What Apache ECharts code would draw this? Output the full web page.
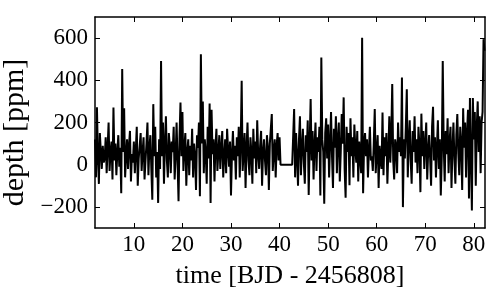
<!DOCTYPE html>
<html>
<head>
<meta charset="utf-8">
<script src="https://cdn.jsdelivr.net/npm/echarts@6/dist/echarts.min.js"></script>
<style>
  html, body { margin: 0; padding: 0; background: #fff; }
  #main { width: 500px; height: 300px; }
</style>
</head>
<body>
<div id="main"></div>
<script>
// light curve, one value every 0.2 d starting at day 2.0 (gap filled with 0)
var startDay = 2.0;
var cadence = 0.2;
var depth = [
  120, -60, 272, 40, -91, 150, 60, -20, 90, 10,
  30, 130, -40, 80, 200, -30, 60, 110, -70, 271,
  20, 100, -50, 60, 140, -10, 80, -135, 453, 60,
  268, -60, 40, 120, -20, 90, 160, -80, 50, 10,
  110, -40, 70, 180, -100, 30, 90, 150, -30, 60,
  130, -70, 20, 100, 200, -50, 80, 140, -20, -166,
  287, 40, 180, -60, 60, -181, 120, -20, 492, 40,
  200, -90, 100, 230, 20, -60, 150, 90, -40, 110,
  60, 180, -70, 40, 200, 10, -173, 130, 295, 40,
  250, -30, 80, 150, -100, 60, 120, -50, 90, 20,
  170, -60, 100, 40, -120, 140, 80, 200, -150, 524,
  100, 300, -40, 120, 60, -90, 180, 30, 290, -182,
  260, 50, 120, -80, 90, 170, -30, 60, 140, -20,
  80, 160, -60, 40, 120, -40, 170, 70, -10, 110,
  -146, 50, 160, 20, 90, -70, 130, 40, 180, -60,
  100, 398, -30, 60, 150, -110, 80, 200, 20, -50,
  130, 60, -90, 170, 30, 110, -40, 210, 50, -20,
  90, 160, -100, 60, 120, 20, -50, 140, 80, -120,
  100, 170, 240, -30, 60, 120, -60, 90, 150, 20,
  130, 0, 0, 0, 0, 0, 0, 0, 0, 0,
  0, 0, 0, 0, 0, 264, -60, 150, 40, -100,
  120, 230, -50, 80, 170, 10, -90, 140, 60, 210,
  -143, 100, 311, 20, 160, -70, 90, 200, -30, 130,
  60, 180, -146, 508, 120, 60, -185, 150, 220, 30,
  190, -60, 100, 250, 40, -110, 170, 80, 230, -40,
  120, 200, -80, 60, 240, 100, 319, -20, -157, 180,
  60, 150, -97, 220, 40, 130, -60, 190, 80, 10,
  160, -80, 110, 30, -40, 602, -135, 90, 150, 40,
  120, -60, 70, 180, 20, 40, -30, 100, 264, -40,
  60, 140, -110, 90, 20, -20, 247, -50, 130, 40,
  150, -90, 60, 230, 10, 140, 382, 20, -70, 120,
  90, -40, 200, 60, 130, 40, 413, -201, 120, 30,
  180, 358, -60, 100, 210, 20, -90, 160, 60, 230,
  10, 120, -40, 180, 90, -130, 242, 40, 160, -20,
  100, 200, -70, 60, 140, 30, -100, 180, 275, 20,
  130, -60, 80, 210, -20, 120, -146, 40, 492, 90,
  -80, 160, 50, 220, -40, 110, 180, -110, 70, 200,
  30, -90, 140, 240, 60, -50, 180, 100, -120, 267,
  80, 200, -60, 150, 260, -160, 316, 40, -217, 316,
  120, 250, -100, 180, 300, 60, 230, -40, 200, 250,
  595, 540
];
var xTicks = [10, 20, 30, 40, 50, 60, 70, 80];
var yTicks = [-200, 0, 200, 400, 600];

var points = depth.map(function (v, i) {
  return [+(startDay + i * cadence).toFixed(2), v];
});

var font = 'Liberation Serif';
var frame = { show: true, onZero: false, lineStyle: { color: '#000', width: 1.5 } };

function axisX(pos, labels) {
  return {
    type: 'value', position: pos, min: 2, max: 82.3,
    name: labels ? 'time [BJD - 2456808]' : '',
    nameLocation: 'middle', nameGap: 35,
    nameTextStyle: { fontFamily: font, fontSize: 26, color: '#000' },
    axisLine: frame,
    axisTick: { show: true, inside: true, length: 5, customValues: xTicks, lineStyle: { color: '#000', width: 1 } },
    axisLabel: { show: labels, customValues: xTicks, margin: 5, fontFamily: font, fontSize: 23, color: '#000' },
    splitLine: { show: false }
  };
}
function axisY(pos, labels) {
  return {
    type: 'value', position: pos, min: -300, max: 700,
    name: labels ? 'depth [ppm]' : '',
    nameLocation: 'middle', nameGap: 62,
    nameTextStyle: { fontFamily: font, fontSize: 30, color: '#000', padding: [0, 20, 0, 0] },
    axisLine: frame,
    axisTick: { show: true, inside: true, length: 5, customValues: yTicks, lineStyle: { color: '#000', width: 1 } },
    axisLabel: {
      show: labels, customValues: yTicks, margin: 7, fontFamily: font, fontSize: 23, color: '#000',
      formatter: function (v) { return String(v).replace('-', '\u2212'); }
    },
    splitLine: { show: false }
  };
}

var chart = echarts.init(document.getElementById('main'));
chart.setOption({
  animation: false,
  backgroundColor: '#fff',
  grid: { left: 95, right: 15, top: 17, bottom: 72, containLabel: false, outerBoundsMode: 'none' },
  xAxis: [axisX('bottom', true), axisX('top', false)],
  yAxis: [axisY('left', true), axisY('right', false)],
  series: [{
    type: 'line',
    data: points,
    showSymbol: false,
    sampling: null,
    lineStyle: { color: '#000', width: 2 },
    clip: true
  }]
});
</script>
</body>
</html>
